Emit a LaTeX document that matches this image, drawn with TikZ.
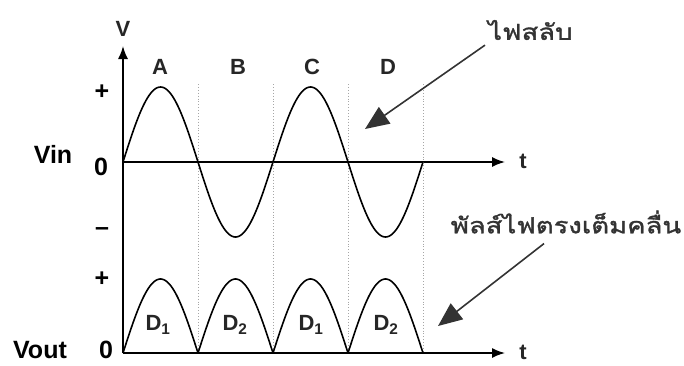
\documentclass[tikz,border=0pt]{standalone}
\usepackage{fontspec}
\setmainfont{Liberation Sans}
\newfontfamily\thai[Script=Thai,FakeStretch=1.25,FakeBold=1.5]{Loma}
\usetikzlibrary{arrows.meta}
\begin{document}
\begin{tikzpicture}[x=1pt,y=-1pt,
  lbl/.style={font=\bfseries\fontsize{22}{24}\selectfont, inner sep=0pt, text=black!85},
  big/.style={font=\bfseries\fontsize{25}{27}\selectfont, inner sep=0pt},
  thlbl/.style={font=\thai\fontsize{22}{24}\selectfont, inner sep=0pt, text=black!80},
  axis/.style={line width=1.6pt, -{Latex[length=13pt,width=10pt]}},
  wave/.style={line width=1.6pt},
  guide/.style={gray!70, line width=0.9pt, dotted},
  pointer/.style={line width=1.6pt, black!80, -{Triangle[length=24pt,width=20pt]}}]
\useasboundingbox (0,0) rectangle (684,365);
% axes
\coordinate (org) at (123,353);
\coordinate (vtop) at (123,46);
\coordinate (zin) at (123,162);
\coordinate (tin) at (505,162);
\coordinate (tout) at (505,353);
\draw[axis] (org) -- (vtop);
\draw[axis] (zin) -- (tin);
\draw[axis] (org) -- (tout);
% guide lines
\foreach \gx/\gn in {198/g1,273/g2,348/g3,423/g4}{
  \coordinate (\gn top) at (\gx,84);
  \coordinate (\gn bot) at (\gx,352);
  \draw[guide] (\gn top) -- (\gn bot);
}
% input sine
\draw[wave] plot[domain=123:423, samples=240, smooth] (\x, {162 - 75*sin((\x-123)/75*180)});
% rectified output
\draw[wave] plot[domain=123:198, samples=60, smooth] (\x, {353 - 74*sin((\x-123)/75*180)});
\draw[wave] plot[domain=198:273, samples=60, smooth] (\x, {353 - 74*sin((\x-198)/75*180)});
\draw[wave] plot[domain=273:348, samples=60, smooth] (\x, {353 - 74*sin((\x-273)/75*180)});
\draw[wave] plot[domain=348:423, samples=60, smooth] (\x, {353 - 74*sin((\x-348)/75*180)});
% labels
\node[lbl] (V) at (123,29) {V};
\node[lbl] (A) at (160,67) {A};
\node[lbl] (B) at (238,67) {B};
\node[lbl] (C) at (312,67) {C};
\node[lbl] (D) at (388,67) {D};
\node[lbl] (tA) at (523,161) {t};
\node[lbl] (tB) at (523,352) {t};
\node[big] (plus1) at (102,92) {+};
\node[big] (minus1) at (102,233) {\raisebox{2pt}{--}};
\node[big] (plus2) at (102,279) {+};
\node[big] (Vin) at (53,154) {Vin};
\node[big] (zero1) at (101,167) {0};
\node[big] (Vout) at (40,350) {Vout};
\node[big] (zero2) at (106,350) {0};
\node[lbl] (d1) at (158,325) {D\textsubscript{1}};
\node[lbl] (d2) at (235,325) {D\textsubscript{2}};
\node[lbl] (d3) at (311,325) {D\textsubscript{1}};
\node[lbl] (d4) at (386,325) {D\textsubscript{2}};
% pointer labels
\node[thlbl, anchor=west] (ac) at (488,30) {ไฟสลับ};
\node[thlbl] (dc) at (566,222) {พัลส์ไฟตรงเต็มคลื่น};
\coordinate (acTip) at (365,129);
\coordinate (dcTip) at (438,326);
\draw[pointer] (ac.south west) ++(-3,5) coordinate (acStart) -- (acTip);
\draw[pointer] (dc.south) ++(-22,10) coordinate (dcStart) -- (dcTip);
\end{tikzpicture}
\end{document}
